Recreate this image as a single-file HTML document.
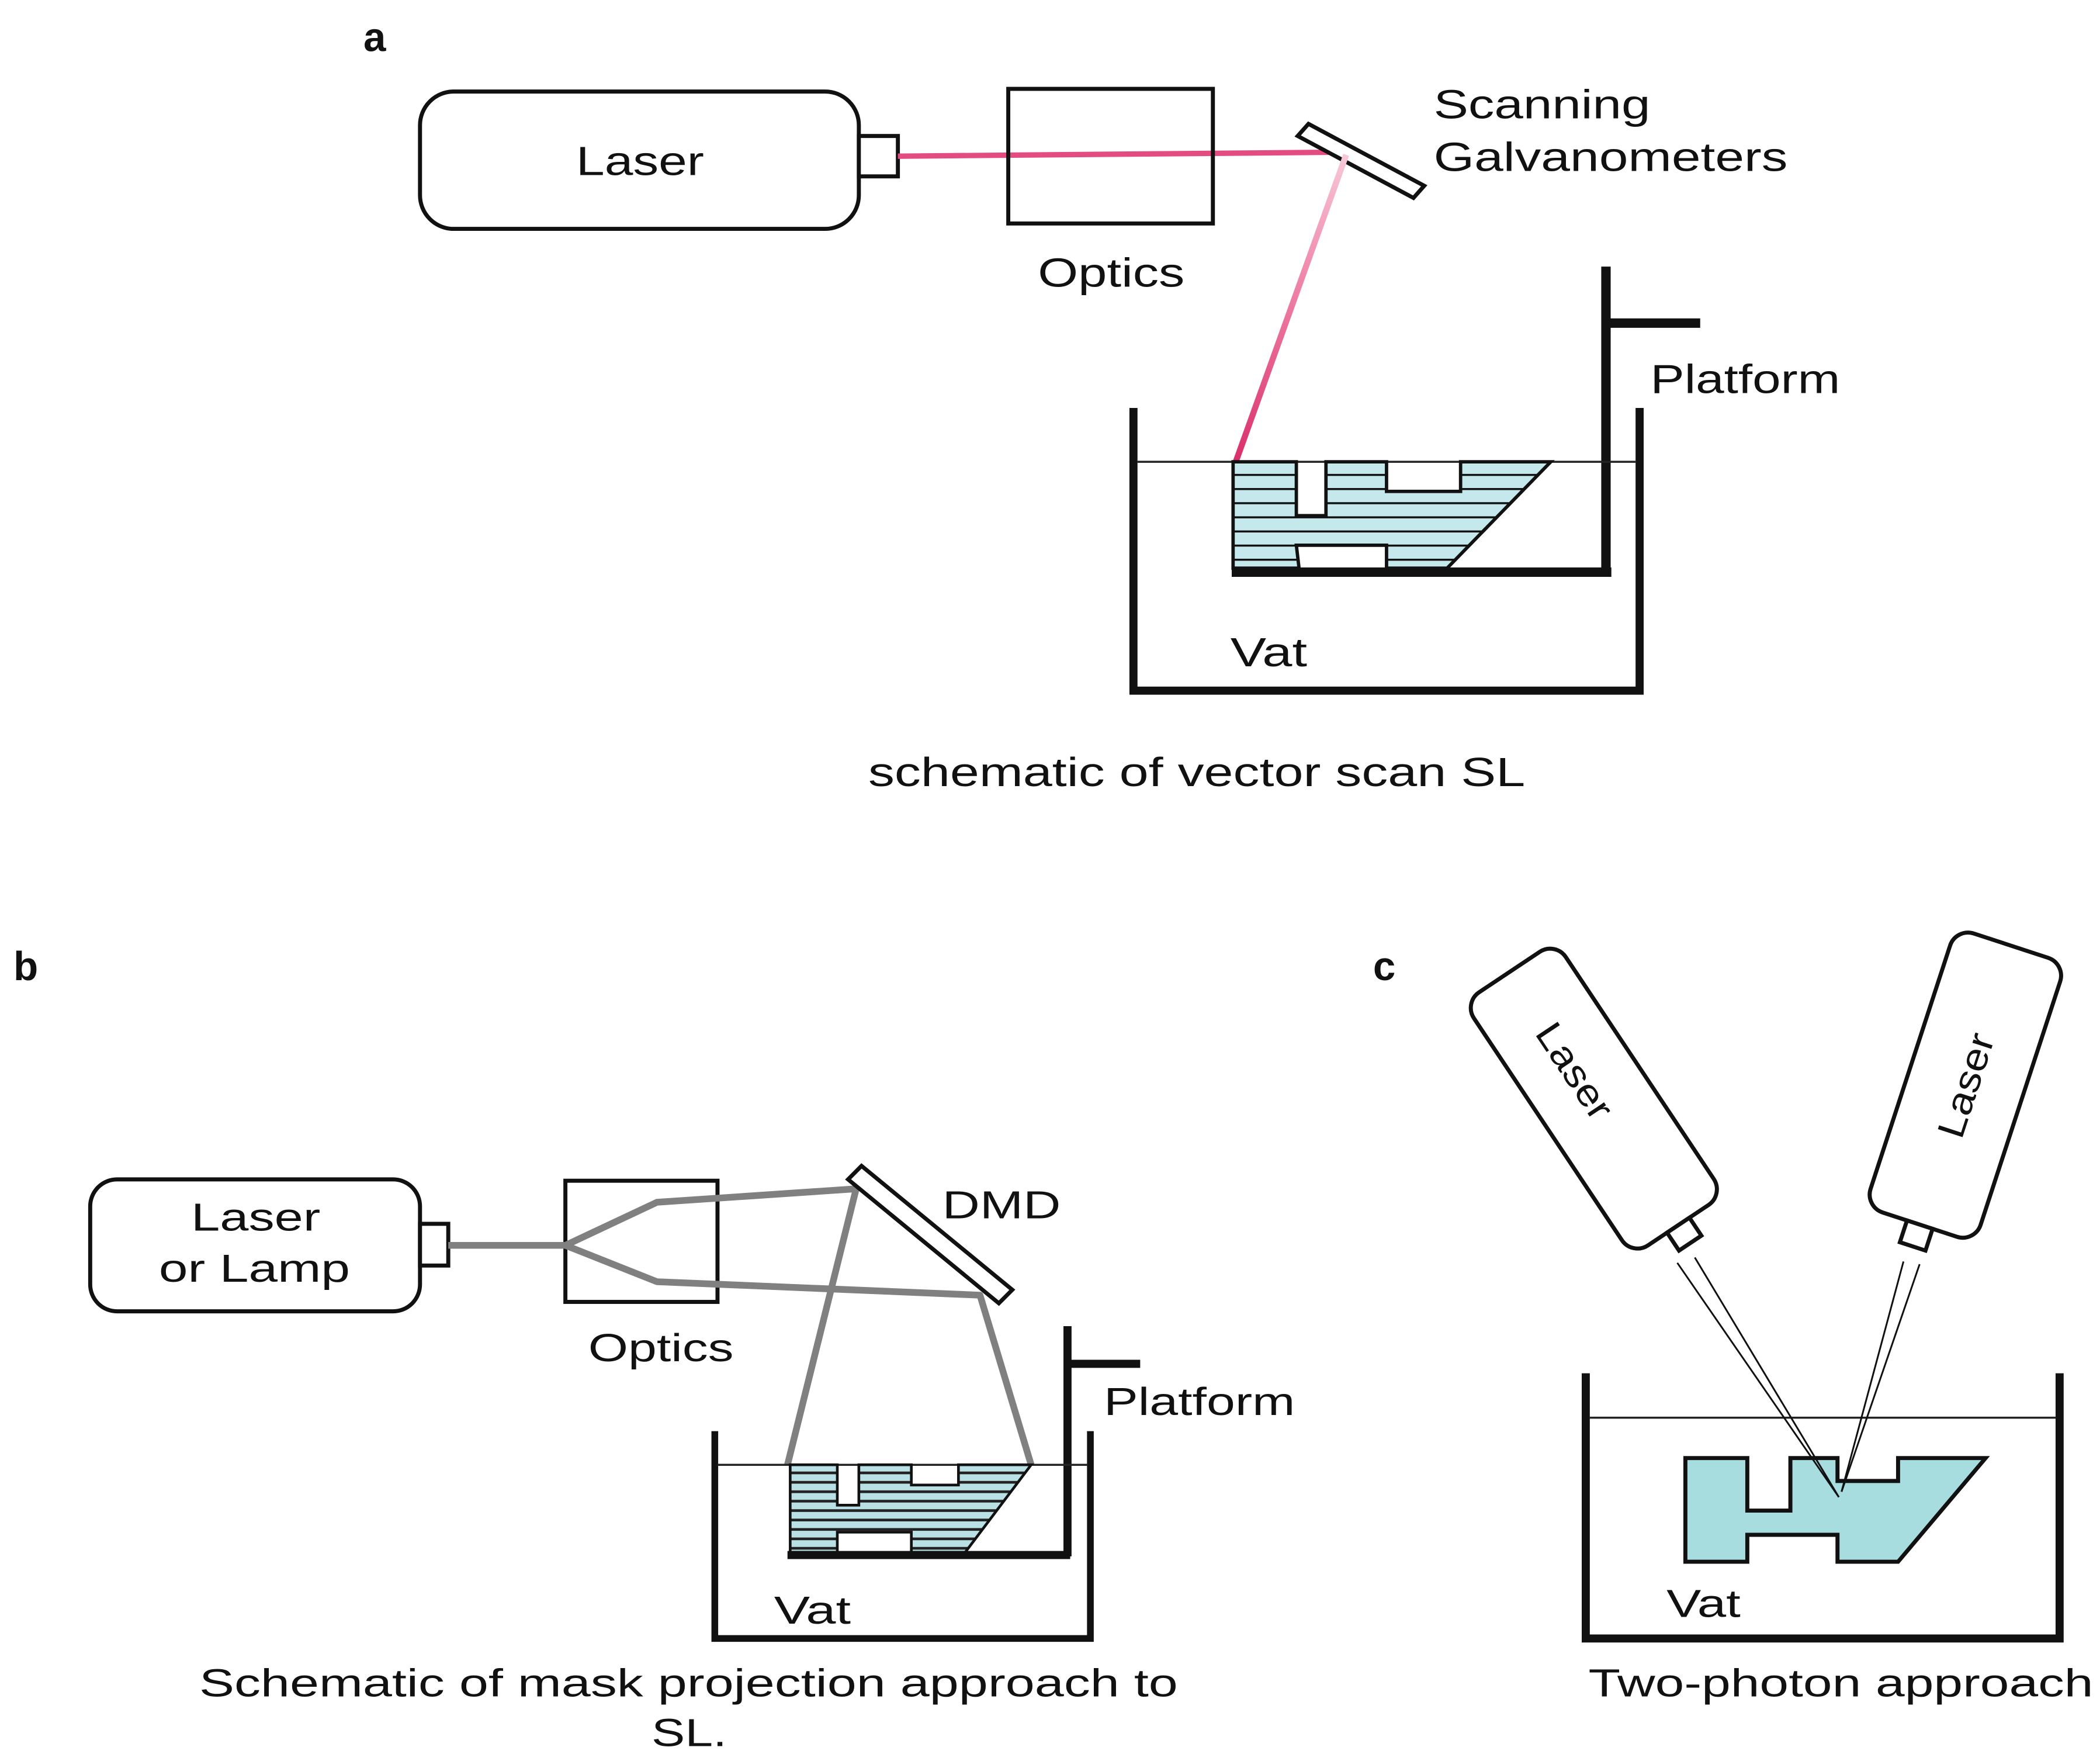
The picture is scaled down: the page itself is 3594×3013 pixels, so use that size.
<!DOCTYPE html>
<html><head><meta charset="utf-8"><style>
html,body{margin:0;padding:0;background:#fff;}
svg{display:block;}
text{font-family:"Liberation Sans",sans-serif;fill:#111;}
</style></head><body>
<svg width="3594" height="3013" viewBox="0 0 1560 1308" preserveAspectRatio="none" xmlns="http://www.w3.org/2000/svg">
<defs>
<linearGradient id="pg" x1="1000" y1="115" x2="918" y2="343" gradientUnits="userSpaceOnUse">
<stop offset="0" stop-color="#f7c8d8"/><stop offset="0.45" stop-color="#ee7fa5"/><stop offset="1" stop-color="#d9306c"/>
</linearGradient>
<pattern id="hatchA" x="0" y="343" width="20" height="10.5" patternUnits="userSpaceOnUse">
<rect width="20" height="10.5" fill="#c4e8ec"/><rect y="9" width="20" height="2" fill="#111"/>
</pattern>
<pattern id="hatchB" x="0" y="1088" width="20" height="7" patternUnits="userSpaceOnUse">
<rect width="20" height="7" fill="#b9e0e4"/><rect y="5" width="20" height="2" fill="#222"/>
</pattern>
</defs>
<rect width="1560" height="1308" fill="#fff"/>

<!-- Panel a -->
<text x="270" y="38" font-size="30" font-weight="bold">a</text>
<rect x="312" y="68" width="326" height="102" rx="25" fill="none" stroke="#111" stroke-width="3"/>
<rect x="638" y="101" width="29" height="30" fill="#fff" stroke="#111" stroke-width="3"/>
<text x="428" y="130" font-size="30" textLength="95" lengthAdjust="spacingAndGlyphs">Laser</text>
<line x1="667" y1="116" x2="1000" y2="113" stroke="#e24c80" stroke-width="4"/>
<rect x="749" y="66" width="152" height="100" fill="none" stroke="#111" stroke-width="3"/>
<text x="771" y="213" font-size="30" textLength="109" lengthAdjust="spacingAndGlyphs">Optics</text>
<polygon points="972,92 1058,138 1050,147 964,101" fill="#fff" stroke="#111" stroke-width="3"/>
<text x="1065" y="88" font-size="30" textLength="161" lengthAdjust="spacingAndGlyphs">Scanning</text>
<text x="1065" y="127" font-size="30" textLength="263" lengthAdjust="spacingAndGlyphs">Galvanometers</text>
<line x1="1000" y1="115" x2="918" y2="343" stroke="url(#pg)" stroke-width="4.5"/>
<line x1="1193" y1="198" x2="1193" y2="428" stroke="#111" stroke-width="7"/>
<line x1="1193" y1="240" x2="1263" y2="240" stroke="#111" stroke-width="7"/>
<text x="1226" y="292" font-size="30" textLength="141" lengthAdjust="spacingAndGlyphs">Platform</text>
<polyline points="842,303 842,513 1218,513 1218,303" fill="none" stroke="#111" stroke-width="6"/>
<line x1="845" y1="343" x2="1215" y2="343" stroke="#222" stroke-width="1.5"/>
<path d="M916,343 L963,343 L963,383 L985,383 L985,343 L1030,343 L1030,365 L1085,365 L1085,343 L1152,343 L1075,422 L1030,422 L1030,405 L963,405 L965,422 L916,422 Z" fill="url(#hatchA)" stroke="#111" stroke-width="2.5"/>
<line x1="915" y1="425" x2="1197" y2="425" stroke="#111" stroke-width="7"/>
<text x="914" y="495" font-size="30" textLength="57" lengthAdjust="spacingAndGlyphs">Vat</text>
<text x="645" y="584" font-size="30" textLength="488" lengthAdjust="spacingAndGlyphs">schematic of vector scan SL</text>

<!-- Panel b -->
<text x="10" y="728" font-size="30" font-weight="bold">b</text>
<rect x="67" y="876" width="245" height="98" rx="20" fill="none" stroke="#111" stroke-width="3"/>
<rect x="312" y="909" width="21" height="31" fill="#fff" stroke="#111" stroke-width="3"/>
<text x="142" y="914" font-size="29" textLength="96" lengthAdjust="spacingAndGlyphs">Laser</text>
<text x="118" y="952" font-size="29" textLength="142" lengthAdjust="spacingAndGlyphs">or Lamp</text>
<rect x="420" y="877" width="113" height="90" fill="none" stroke="#111" stroke-width="3"/>
<text x="437" y="1011" font-size="29" textLength="108" lengthAdjust="spacingAndGlyphs">Optics</text>
<g stroke="#808080" stroke-width="5" fill="none" stroke-linejoin="round">
<line x1="333" y1="925" x2="420" y2="925"/>
<polyline points="420,925 488,893 636,883 585,1088"/>
<polyline points="420,925 488,952 728,962 766,1088"/>
</g>
<polygon points="640,866 752,958 742,968 630,876" fill="#fff" stroke="#111" stroke-width="3"/>
<text x="700" y="905" font-size="29" textLength="88" lengthAdjust="spacingAndGlyphs">DMD</text>
<line x1="793" y1="985" x2="793" y2="1156" stroke="#111" stroke-width="6"/>
<line x1="793" y1="1013" x2="847" y2="1013" stroke="#111" stroke-width="6"/>
<text x="820" y="1051" font-size="29" textLength="142" lengthAdjust="spacingAndGlyphs">Platform</text>
<polyline points="531,1063 531,1217 810,1217 810,1063" fill="none" stroke="#111" stroke-width="5"/>
<line x1="533" y1="1088" x2="808" y2="1088" stroke="#222" stroke-width="1.5"/>
<path d="M587,1088 L622,1088 L622,1118 L638,1118 L638,1088 L677,1088 L677,1103 L712,1103 L712,1088 L766,1088 L717,1153 L677,1153 L677,1138 L622,1138 L622,1153 L587,1153 Z" fill="url(#hatchB)" stroke="#111" stroke-width="2"/>
<line x1="585" y1="1155" x2="795" y2="1155" stroke="#111" stroke-width="6"/>
<text x="575" y="1206" font-size="29" textLength="57" lengthAdjust="spacingAndGlyphs">Vat</text>
<text x="148" y="1260" font-size="29" textLength="727" lengthAdjust="spacingAndGlyphs">Schematic of mask projection approach to</text>
<text x="484" y="1297" font-size="29" textLength="56" lengthAdjust="spacingAndGlyphs">SL.</text>

<!-- Panel c -->
<text x="1020" y="728" font-size="30" font-weight="bold">c</text>
<g transform="translate(1184,816) rotate(-33.7)">
<rect x="-41" y="-113" width="82" height="226" rx="14" fill="#fff" stroke="#111" stroke-width="3"/>
<rect x="-10" y="113" width="20" height="16" fill="#fff" stroke="#111" stroke-width="3"/>
<text x="0" y="0" font-size="28" text-anchor="middle" transform="rotate(90) translate(-25,10)" textLength="80" lengthAdjust="spacingAndGlyphs">Laser</text>
</g>
<g transform="translate(1460,806) rotate(18.1)">
<rect x="-43" y="-109" width="86" height="218" rx="14" fill="#fff" stroke="#111" stroke-width="3"/>
<rect x="-10" y="109" width="20" height="17" fill="#fff" stroke="#111" stroke-width="3"/>
<text x="0" y="0" font-size="28" text-anchor="middle" transform="rotate(-90) translate(0,10)" textLength="80" lengthAdjust="spacingAndGlyphs">Laser</text>
</g>
<polyline points="1178,1020 1178,1217 1530,1217 1530,1020" fill="none" stroke="#111" stroke-width="6"/>
<line x1="1181" y1="1053" x2="1527" y2="1053" stroke="#222" stroke-width="1.5"/>
<path d="M1252,1083 L1298,1083 L1298,1122 L1330,1122 L1330,1083 L1365,1083 L1365,1100 L1410,1100 L1410,1083 L1475,1083 L1410,1160 L1365,1160 L1365,1140 L1298,1140 L1298,1160 L1252,1160 Z" fill="#a8dde0" stroke="#111" stroke-width="3"/>
<g stroke="#111" stroke-width="1.3">
<line x1="1246" y1="938" x2="1366" y2="1112"/>
<line x1="1259" y1="934" x2="1366" y2="1112"/>
<line x1="1414" y1="937" x2="1368" y2="1108"/>
<line x1="1426" y1="939" x2="1368" y2="1108"/>
</g>
<text x="1238" y="1201" font-size="29" textLength="55" lengthAdjust="spacingAndGlyphs">Vat</text>
<text x="1180" y="1260" font-size="29" textLength="375" lengthAdjust="spacingAndGlyphs">Two-photon approach</text>
</svg>
</body></html>
